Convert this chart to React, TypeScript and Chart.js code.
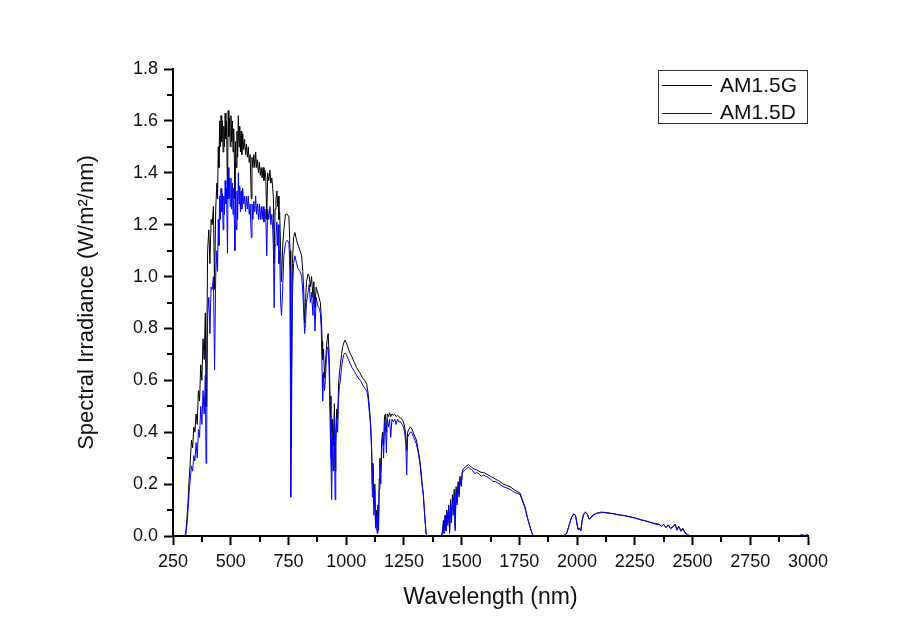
import React, { useEffect, useRef } from "react";
import { Chart, registerables } from "chart.js";

Chart.register(...registerables);

const seriesLabels = ["AM1.5G", "AM1.5D"];
const seriesColors = ["#000000", "#0000ff"];

const xTitle = "Wavelength (nm)";
const yTitle = "Spectral Irradiance (W/m\u00b2/nm)";

const xMin = 250;
const xMax = 3000;
const xStep = 250;
const yMin = 0;
const yMax = 1.8;
const yStep = 0.2;

const wavelengths = [
  280, 300, 305, 310, 315, 320, 325, 330, 335, 340,
  345, 350, 355, 360, 365, 370, 375, 380, 385, 390,
  393, 396, 400, 405, 410, 415, 420, 425, 430, 435,
  440, 443, 446, 449, 452, 455, 458, 461, 464, 467,
  470, 473, 476, 479, 482, 486, 489, 492, 495, 498,
  501, 504, 507, 510, 513, 516, 518, 521, 524, 527,
  530, 533, 536, 539, 542, 545, 548, 552, 556, 560,
  564, 568, 572, 576, 580, 584, 589, 592, 596, 600,
  604, 608, 612, 616, 620, 624, 628, 632, 636, 640,
  644, 648, 652, 656, 660, 665, 670, 674, 678, 682,
  685, 688, 692, 696, 700, 703, 706, 709, 712, 716,
  720, 725, 730, 737, 745, 752, 757, 760, 763, 767,
  772, 778, 785, 792, 800, 807, 812, 816, 820, 824,
  828, 835, 840, 845, 850, 856, 860, 865, 870, 876,
  882, 888, 892, 896, 898, 902, 906, 910, 914, 918,
  922, 926, 930, 934, 937, 941, 945, 949, 952, 955,
  959, 963, 967, 971, 975, 980, 985, 990, 995, 1000,
  1005, 1010, 1017, 1025, 1035, 1045, 1055, 1062, 1070, 1080,
  1089, 1095, 1100, 1105, 1110, 1113, 1116, 1120, 1124, 1127,
  1131, 1134, 1137, 1140, 1143, 1146, 1150, 1154, 1158, 1162,
  1166, 1170, 1174, 1178, 1183, 1188, 1193, 1198, 1204, 1210,
  1216, 1222, 1228, 1235, 1242, 1248, 1253, 1258, 1262, 1266,
  1271, 1277, 1283, 1290, 1297, 1304, 1310, 1316, 1322, 1328,
  1334, 1340, 1346, 1350, 1414, 1418, 1421, 1424, 1428, 1432,
  1436, 1440, 1444, 1448, 1452, 1456, 1460, 1464, 1468, 1472,
  1476, 1480, 1485, 1489, 1493, 1498, 1503, 1508, 1515, 1522,
  1529, 1536, 1543, 1550, 1557, 1565, 1575, 1585, 1595, 1605,
  1615, 1625, 1635, 1645, 1655, 1665, 1680, 1695, 1710, 1725,
  1740, 1753, 1763, 1774, 1785, 1796, 1805, 1810, 1940, 1955,
  1965, 1975, 1985, 1993, 1999, 2004, 2010, 2016, 2022, 2028,
  2036, 2044, 2052, 2060, 2070, 2080, 2092, 2105, 2118, 2130,
  2145, 2160, 2175, 2190, 2205, 2220, 2235, 2250, 2265, 2280,
  2295, 2310, 2325, 2340, 2355, 2365, 2375, 2385, 2395, 2405,
  2415, 2425, 2432, 2440, 2450, 2458, 2468, 2478, 2490, 2950,
  2975, 2985, 3000,
];

const am15g = [
  0, 0, 0.01, 0.06, 0.13, 0.22, 0.29, 0.37, 0.34, 0.42,
  0.4, 0.47, 0.43, 0.56, 0.52, 0.66, 0.6, 0.76, 0.68, 0.86,
  0.5, 0.7, 1.1, 1.18, 1.05, 1.22, 1.2, 1.27, 0.95, 1.26,
  1.36, 1.3, 1.5, 1.42, 1.6, 1.5, 1.62, 1.52, 1.6, 1.48,
  1.58, 1.5, 1.63, 1.53, 1.6, 1.3, 1.64, 1.54, 1.61, 1.5,
  1.62, 1.52, 1.6, 1.48, 1.57, 1.44, 1.3, 1.52, 1.42, 1.56,
  1.46, 1.62, 1.5, 1.58, 1.48, 1.56, 1.47, 1.55, 1.49, 1.53,
  1.47, 1.51, 1.46, 1.5, 1.44, 1.47, 1.3, 1.46, 1.42, 1.47,
  1.42, 1.48, 1.42, 1.45, 1.4, 1.44, 1.39, 1.42, 1.38, 1.42,
  1.37, 1.41, 1.38, 1.22, 1.4, 1.37, 1.41, 1.36, 1.38, 1.34,
  1.3, 1.05, 1.26, 1.3, 1.33, 1.27, 1.31, 1.22, 1.25, 1.1,
  0.98, 1.12, 1.18, 1.24, 1.24, 1.23, 1.1, 0.34, 0.6, 1.05,
  1.15, 1.17, 1.14, 1.12, 1.1, 1.08, 1.02, 0.95, 0.82, 0.9,
  0.98, 1.01, 1.0, 0.96, 1.0, 0.92, 0.98, 0.88, 0.96, 0.94,
  0.92, 0.9, 0.85, 0.75, 0.68, 0.72, 0.61, 0.66, 0.72, 0.76,
  0.78, 0.7, 0.54, 0.4, 0.25, 0.45, 0.35, 0.51, 0.25, 0.4,
  0.49, 0.45, 0.58, 0.63, 0.66, 0.7, 0.73, 0.745, 0.755, 0.745,
  0.735, 0.72, 0.704, 0.69, 0.67, 0.65, 0.635, 0.625, 0.61, 0.6,
  0.585, 0.55, 0.5, 0.45, 0.35, 0.2, 0.28, 0.12, 0.2, 0.05,
  0.1, 0.02, 0.12, 0.03, 0.22, 0.3, 0.25, 0.37, 0.4, 0.35,
  0.46, 0.47, 0.4, 0.47, 0.46, 0.475, 0.46, 0.47, 0.465, 0.47,
  0.46, 0.465, 0.46, 0.455, 0.45, 0.44, 0.42, 0.39, 0.33, 0.4,
  0.41, 0.42, 0.415, 0.4, 0.385, 0.37, 0.34, 0.31, 0.27, 0.21,
  0.16, 0.08, 0.01, 0, 0, 0.03, 0.06, 0.01, 0.08, 0.03,
  0.1, 0.05, 0.12, 0.02, 0.14, 0.06, 0.16, 0.1, 0.18, 0.03,
  0.19, 0.13, 0.21, 0.16, 0.23, 0.2, 0.25, 0.26, 0.265, 0.27,
  0.275, 0.27, 0.265, 0.26, 0.258, 0.255, 0.25, 0.245, 0.245, 0.24,
  0.235, 0.23, 0.225, 0.22, 0.215, 0.21, 0.2, 0.195, 0.19, 0.18,
  0.172, 0.165, 0.14, 0.113, 0.07, 0.036, 0.01, 0, 0, 0.01,
  0.04, 0.07, 0.085, 0.08, 0.05, 0.025, 0.03, 0.02, 0.06, 0.085,
  0.092, 0.085, 0.065, 0.072, 0.082, 0.086, 0.09, 0.092, 0.091, 0.09,
  0.088, 0.086, 0.083, 0.081, 0.079, 0.076, 0.073, 0.07, 0.066, 0.062,
  0.059, 0.055, 0.051, 0.047, 0.046, 0.038, 0.045, 0.033, 0.043, 0.03,
  0.036, 0.046, 0.025, 0.038, 0.02, 0.03, 0.012, 0.005, 0, 0,
  0.004, 0.002, 0.004,
];

const am15d = [
  0, 0, 0.005, 0.04, 0.1, 0.17, 0.22, 0.27, 0.25, 0.31,
  0.29, 0.36, 0.3, 0.41, 0.38, 0.5, 0.43, 0.56, 0.47, 0.62,
  0.28, 0.4, 0.85, 0.92, 0.78, 0.96, 0.95, 1.0, 0.64, 1.0,
  1.1, 1.02, 1.22, 1.12, 1.31, 1.22, 1.34, 1.25, 1.32, 1.18,
  1.31, 1.24, 1.37, 1.28, 1.34, 1.09, 1.42, 1.3, 1.38, 1.27,
  1.38, 1.26, 1.36, 1.24, 1.34, 1.2, 1.1, 1.3, 1.18, 1.33,
  1.22, 1.4, 1.28, 1.35, 1.25, 1.33, 1.26, 1.34, 1.28, 1.31,
  1.25, 1.31, 1.26, 1.31, 1.24, 1.28, 1.15, 1.28, 1.22, 1.29,
  1.25, 1.31, 1.24, 1.28, 1.22, 1.28, 1.22, 1.27, 1.22, 1.27,
  1.21, 1.26, 1.22, 1.08, 1.26, 1.22, 1.27, 1.2, 1.24, 1.18,
  1.1, 0.88, 1.12, 1.16, 1.21, 1.12, 1.2, 1.05, 1.1, 0.9,
  0.85, 0.95, 1.08, 1.13, 1.14, 1.13, 1.02, 0.15, 0.4, 0.92,
  1.05, 1.08, 1.05, 1.03, 1.02, 1.0, 0.94, 0.86, 0.78, 0.82,
  0.9, 0.94, 0.97, 0.9, 0.94, 0.85, 0.93, 0.79, 0.92, 0.89,
  0.88, 0.86, 0.8, 0.62, 0.52, 0.63, 0.56, 0.6, 0.68, 0.72,
  0.73, 0.65, 0.45, 0.3, 0.14, 0.38, 0.25, 0.46, 0.14, 0.35,
  0.45, 0.4, 0.53, 0.58, 0.6, 0.65, 0.68, 0.7, 0.705, 0.7,
  0.69, 0.68, 0.665, 0.65, 0.635, 0.62, 0.605, 0.6, 0.585, 0.57,
  0.56, 0.53, 0.48, 0.43, 0.33, 0.15, 0.26, 0.08, 0.18, 0.03,
  0.08, 0.01, 0.1, 0.02, 0.18, 0.28, 0.2, 0.35, 0.38, 0.3,
  0.44, 0.43, 0.32, 0.45, 0.42, 0.45, 0.38, 0.45, 0.44, 0.45,
  0.43, 0.45, 0.44, 0.44, 0.43, 0.42, 0.4, 0.36, 0.235, 0.38,
  0.39, 0.4, 0.4, 0.385, 0.37, 0.355, 0.33, 0.3, 0.26, 0.2,
  0.16, 0.08, 0.01, 0, 0, 0.02, 0.05, 0.01, 0.07, 0.02,
  0.09, 0.04, 0.11, 0.01, 0.12, 0.05, 0.14, 0.08, 0.16, 0.02,
  0.17, 0.12, 0.2, 0.15, 0.22, 0.19, 0.24, 0.25, 0.255, 0.26,
  0.265, 0.26, 0.255, 0.25, 0.24, 0.245, 0.24, 0.23, 0.235, 0.23,
  0.225, 0.22, 0.21, 0.21, 0.205, 0.2, 0.19, 0.185, 0.18, 0.17,
  0.165, 0.16, 0.135, 0.11, 0.07, 0.035, 0.01, 0, 0, 0.01,
  0.04, 0.07, 0.085, 0.08, 0.05, 0.025, 0.03, 0.02, 0.06, 0.08,
  0.09, 0.085, 0.065, 0.07, 0.08, 0.085, 0.088, 0.09, 0.09, 0.088,
  0.087, 0.085, 0.082, 0.08, 0.078, 0.075, 0.072, 0.069, 0.065, 0.061,
  0.058, 0.054, 0.05, 0.046, 0.044, 0.037, 0.044, 0.032, 0.042, 0.028,
  0.034, 0.045, 0.022, 0.036, 0.018, 0.028, 0.01, 0.005, 0, 0,
  0.004, 0.002, 0.004,
];

const FONT = "'Liberation Sans', Arial, Helvetica, sans-serif";

const minorTicksPlugin = {
  id: "minorTicks",
  afterDraw(chart: any) {
    const { ctx } = chart;
    const xs = chart.scales.x;
    const ys = chart.scales.y;
    ctx.save();
    ctx.strokeStyle = "#000";
    ctx.lineWidth = 2;
    ctx.beginPath();
    for (let v = xMin + xStep / 2; v < xMax; v += xStep) {
      const px = Math.round(xs.getPixelForValue(v));
      ctx.moveTo(px, ys.bottom);
      ctx.lineTo(px, ys.bottom + 6);
    }
    for (let i = 0; i < Math.round((yMax - yMin) / yStep); i++) {
      const v = yMin + yStep * i + yStep / 2;
      const py = Math.round(ys.getPixelForValue(v));
      ctx.moveTo(xs.left, py);
      ctx.lineTo(xs.left - 6, py);
    }
    ctx.stroke();
    ctx.restore();
  },
};

const boxLegendPlugin = {
  id: "boxLegend",
  afterDraw(chart: any) {
    const { ctx, chartArea } = chart;
    const right = chartArea.right - 1;
    const left = right - 149;
    const top = chartArea.top + 1;
    const h = 53;
    ctx.save();
    ctx.strokeStyle = "#333";
    ctx.lineWidth = 1;
    ctx.strokeRect(left + 0.5, top + 0.5, right - left, h);
    ctx.font = `21px ${FONT}`;
    ctx.textBaseline = "middle";
    ctx.textAlign = "left";
    seriesLabels.forEach((lab, i) => {
      const y = top + 15 + i * 27.5;
      ctx.strokeStyle = seriesColors[i];
      ctx.lineWidth = 1;
      ctx.beginPath();
      ctx.moveTo(left + 4, Math.round(y) + 0.5);
      ctx.lineTo(left + 54, Math.round(y) + 0.5);
      ctx.stroke();
      ctx.fillStyle = "#111";
      ctx.fillText(lab, left + 62, y + 1);
    });
    ctx.restore();
  },
};

export default function App() {
  const canvasRef = useRef<HTMLCanvasElement | null>(null);

  useEffect(() => {
    if (!canvasRef.current) return;
    const makePoints = (vals: number[]) =>
      wavelengths.map((w, i) => ({ x: w, y: vals[i] }));

    const chart = new Chart(canvasRef.current, {
      type: "line",
      data: {
        datasets: [
          {
            label: seriesLabels[0],
            data: makePoints(am15g),
            borderColor: seriesColors[0],
            borderWidth: 1,
            pointRadius: 0,
            tension: 0,
            fill: false,
            order: 1,
          },
          {
            label: seriesLabels[1],
            data: makePoints(am15d),
            borderColor: seriesColors[1],
            borderWidth: 1,
            pointRadius: 0,
            tension: 0,
            fill: false,
            order: 0,
          },
        ],
      },
      options: {
        animation: false,
        responsive: false,
        maintainAspectRatio: false,
        layout: { padding: { top: 69, right: 114, left: 0, bottom: 0 } },
        plugins: {
          legend: { display: false },
          tooltip: { enabled: false },
        },
        scales: {
          x: {
            type: "linear",
            min: xMin,
            max: xMax,
            afterFit: (s: any) => {
              s.height = 101;
            },
            ticks: {
              stepSize: xStep,
              color: "#111",
              padding: 6,
              font: { family: FONT, size: 18 },
              maxRotation: 0,
              autoSkip: false,
              callback: (v: any) => String(v),
            },
            grid: {
              display: true,
              drawOnChartArea: false,
              drawTicks: true,
              tickLength: 9,
              tickColor: "#000",
              tickWidth: 2,
            },
            border: { display: true, color: "#000", width: 2 },
            title: {
              display: true,
              text: xTitle,
              color: "#111",
              font: { family: FONT, size: 23 },
              padding: { top: 0, bottom: 26 },
            },
          },
          y: {
            type: "linear",
            min: yMin,
            max: yMax,
            afterFit: (s: any) => {
              s.width = 173;
            },
            ticks: {
              stepSize: yStep,
              color: "#111",
              padding: 6,
              font: { family: FONT, size: 18 },
              callback: (v: any) => Number(v).toFixed(1),
            },
            grid: {
              display: true,
              drawOnChartArea: false,
              drawTicks: true,
              tickLength: 9,
              tickColor: "#000",
              tickWidth: 2,
            },
            border: { display: true, color: "#000", width: 2 },
            title: {
              display: true,
              text: yTitle,
              color: "#111",
              font: { family: FONT, size: 22 },
              padding: { top: 74, bottom: 0 },
            },
          },
        },
      },
      plugins: [minorTicksPlugin, boxLegendPlugin],
    });
    return () => chart.destroy();
  }, []);

  return (
    <div style={{ position: "absolute", left: 0, top: 0, width: 922, height: 637, background: "#fff" }}>
      <canvas ref={canvasRef} width={922} height={637} />
    </div>
  );
}
